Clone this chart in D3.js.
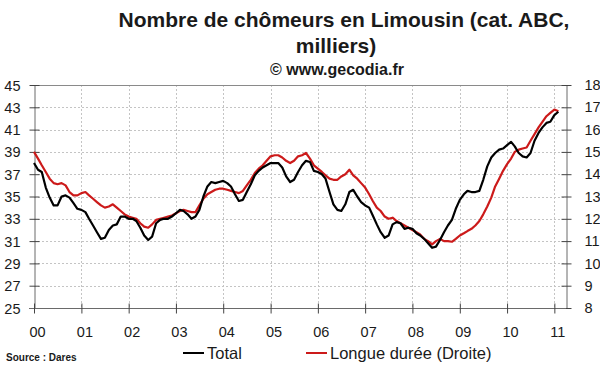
<!DOCTYPE html>
<html><head><meta charset="utf-8">
<script src="https://cdn.jsdelivr.net/npm/d3@7"></script>
<style>
body{margin:0;background:#fff;}
svg{display:block;font-family:"Liberation Sans",Arial,sans-serif;}
</style></head>
<body><svg id="c" width="600" height="372"></svg>
<script>
// Monthly data, Jan 2000 - Feb 2011
const yearLabels = ["00","01","02","03","04","05","06","07","08","09","10","11"];
const leftTicks = [25,27,29,31,33,35,37,39,41,43,45];
const rightTicks = [8,9,10,11,12,13,14,15,16,17,18];
const total = [
38.0,37.4,37.2,35.8,34.9,34.2,34.2,35.0,35.1,34.9,34.4,33.9,
33.8,33.6,33.0,32.4,31.8,31.2,31.3,32.0,32.4,32.5,33.2,33.2,
33.0,33.0,32.8,32.2,31.5,31.1,31.4,32.6,32.9,33.0,33.0,33.2,
33.5,33.8,33.7,33.4,33.0,33.2,33.8,35.0,35.9,36.3,36.2,36.3,
36.4,36.2,35.9,35.2,34.6,34.7,35.4,36.1,36.9,37.3,37.6,37.8,
38.0,38.0,38.0,37.6,36.8,36.3,36.5,37.2,37.8,38.2,38.1,37.3,
37.2,37.0,36.6,35.4,34.3,33.8,33.7,34.3,35.4,35.6,35.0,34.5,
34.2,34.0,33.3,32.5,31.8,31.3,31.5,32.5,32.7,32.6,32.1,32.2,
32.1,31.7,31.5,31.2,30.8,30.4,30.5,31.1,31.8,32.4,32.9,33.9,
34.7,35.2,35.5,35.4,35.4,35.5,36.5,37.7,38.5,38.9,39.2,39.3,
39.6,39.9,39.5,38.9,38.6,38.5,38.9,40.0,40.7,41.2,41.6,41.7,
42.3,42.6];
const longueDuree = [
15.0,14.7,14.4,14.1,13.8,13.6,13.55,13.6,13.5,13.2,13.05,13.05,
13.15,13.2,13.05,12.9,12.75,12.6,12.5,12.55,12.65,12.5,12.35,12.2,
12.1,12.05,12.0,11.8,11.65,11.6,11.75,11.95,12.0,12.05,12.1,12.15,
12.25,12.35,12.4,12.35,12.3,12.3,12.6,12.9,13.1,13.2,13.3,13.35,
13.35,13.3,13.25,13.2,13.15,13.25,13.5,13.75,14.05,14.25,14.4,14.6,
14.8,14.85,14.85,14.75,14.6,14.5,14.6,14.8,14.85,14.95,14.7,14.4,
14.25,14.1,13.95,13.8,13.75,13.75,13.9,14.0,14.2,13.95,13.8,13.6,
13.4,13.1,12.8,12.5,12.35,12.1,12.0,12.05,11.9,11.8,11.7,11.6,
11.5,11.4,11.3,11.1,11.0,10.85,11.0,11.1,11.0,11.0,10.97,11.1,
11.25,11.35,11.45,11.55,11.7,11.9,12.2,12.55,12.95,13.45,13.8,14.15,
14.45,14.7,15.0,15.1,15.15,15.2,15.5,15.8,16.1,16.35,16.6,16.75,
16.9,16.82];

const svg = d3.select("#c");
const L = 34, R = 566, T = 85, B = 308;
const x = d3.scaleTime().domain([new Date(2000,0,1), new Date(2011,3,1)]).range([L,R]);
const yL = d3.scaleLinear().domain([25,45]).range([B,T]);
const yR = d3.scaleLinear().domain([8,18]).range([B,T]);
const yearDates = yearLabels.map((s,i)=>new Date(2000+i,0,1));

// grid
const grid = svg.append("g").attr("stroke","#c4c4c4").attr("stroke-dasharray","2,2").attr("stroke-width",1);
grid.selectAll("line.h").data(leftTicks.slice(1,-1)).join("line")
  .attr("x1",L).attr("x2",R).attr("y1",d=>Math.round(yL(d))+0.5).attr("y2",d=>Math.round(yL(d))+0.5);
grid.selectAll("line.v").data(yearDates.slice(1)).join("line")
  .attr("y1",T).attr("y2",B).attr("x1",d=>Math.round(x(d))+0.5).attr("x2",d=>Math.round(x(d))+0.5);

// frame top
svg.append("line").attr("x1",L).attr("x2",R).attr("y1",T+0.5).attr("y2",T+0.5).attr("stroke","#8a8a8a");

function styleAxis(g, tickStart, tickEnd, horiz){
  g.select(".domain").attr("stroke","#6a6a6a");
  g.selectAll(".tick line").attr("stroke","#444")
   .attr(horiz?"y1":"x1",tickStart).attr(horiz?"y2":"x2",tickEnd);
  g.selectAll(".tick text").attr("fill","#1a1a1a").style("font-size","14.5px")
   .style("font-family","'Liberation Sans',Arial,sans-serif");
}
const gl = svg.append("g").attr("transform",`translate(${L+0.5},0)`)
  .call(d3.axisLeft(yL).tickValues(leftTicks).tickSizeOuter(0).tickPadding(8));
styleAxis(gl,-5,5,false);
gl.selectAll(".tick text").attr("dy","0.35em");

const gr = svg.append("g").attr("transform",`translate(${R+0.5},0)`)
  .call(d3.axisRight(yR).tickValues(rightTicks).tickSizeOuter(0).tickPadding(12));
styleAxis(gr,-5,5,false);

const gb = svg.append("g").attr("transform",`translate(0,${B+0.5})`)
  .call(d3.axisBottom(x).tickValues(yearDates).tickFormat((d,i)=>yearLabels[i]).tickSizeOuter(0).tickPadding(12));
styleAxis(gb,-5,5,true);
gb.selectAll(".tick text").attr("dx","3");
gb.select(".domain").attr("d",`M${L-5},0H${R}`);

// lines
const dates = total.map((v,i)=>new Date(2000,i,1));
svg.append("path").datum(longueDuree)
  .attr("fill","none").attr("stroke","#cc1a1a").attr("stroke-width",2.2).attr("stroke-linejoin","round")
  .attr("d", d3.line().x((d,i)=>x(new Date(2000,i,1))).y(d=>yR(d)));
svg.append("path").datum(total)
  .attr("fill","none").attr("stroke","#000").attr("stroke-width",2.2).attr("stroke-linejoin","round")
  .attr("d", d3.line().x((d,i)=>x(dates[i])).y(d=>yL(d)));

// titles
const title = svg.append("g").attr("text-anchor","middle").attr("fill","#1a1a1a")
  .style("font-family","'Liberation Sans',Arial,sans-serif").style("font-weight","bold");
title.append("text").attr("x",344).attr("y",27).style("font-size","21px").text("Nombre de chômeurs en Limousin (cat. ABC,");
title.append("text").attr("x",336).attr("y",53).style("font-size","21px").text("milliers)");
title.append("text").attr("x",337).attr("y",75).style("font-size","16px").text("© www.gecodia.fr");

// source
svg.append("text").attr("x",6).attr("y",361).style("font-size","10px").style("font-weight","bold")
  .attr("fill","#1a1a1a").text("Source : Dares");

// legend
const leg = svg.append("g").style("font-size","16.5px").attr("fill","#1a1a1a");
const legendItems = [{name:"Total",color:"#000",x:183},{name:"Longue durée (Droite)",color:"#cc1a1a",x:306}];
legendItems.forEach(it=>{
  leg.append("line").attr("x1",it.x).attr("x2",it.x+21).attr("y1",353).attr("y2",353).attr("stroke",it.color).attr("stroke-width",2);
  leg.append("text").attr("x",it.x+24).attr("y",359).text(it.name);
});
</script></body></html>
